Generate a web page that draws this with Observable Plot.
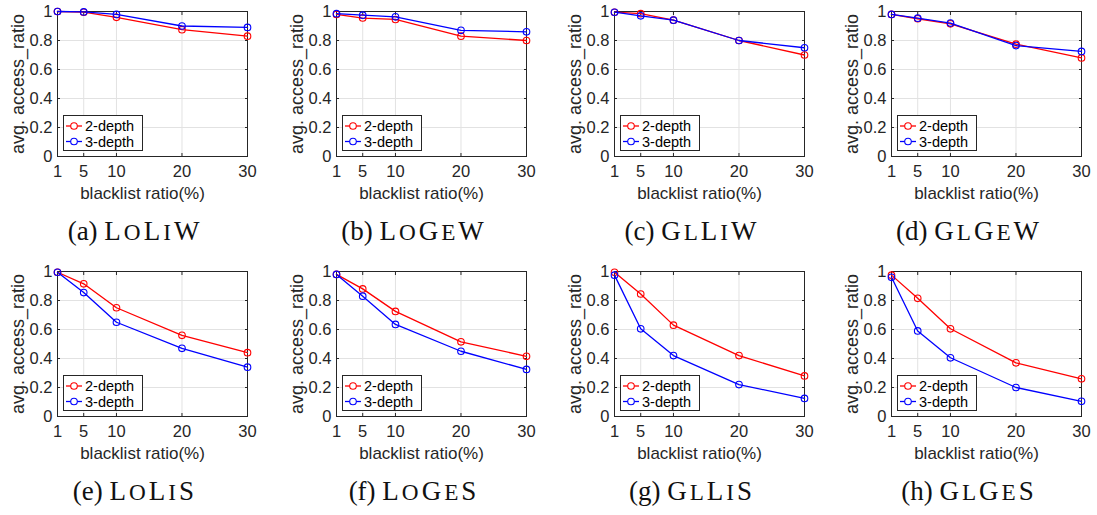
<!DOCTYPE html>
<html><head><meta charset="utf-8">
<script src="https://cdn.jsdelivr.net/npm/d3@7"></script>
<script src="https://cdn.jsdelivr.net/npm/@observablehq/plot@0.6"></script>
<style>
body{margin:0;background:#fff;}
#root{position:relative;width:1097px;height:515px;overflow:hidden;background:#fff;}
.panel{position:absolute;}
.legend{position:absolute;background:#fff;}
.caption{position:absolute;font-family:"Liberation Serif","Times New Roman",serif;font-size:27px;color:#111;white-space:nowrap;transform:translate(-50%,-50%);line-height:1;}
.caption .nm{letter-spacing:3px;}
.caption .sc{font-size:86%;}
</style></head><body><div id="root"></div>
<script>
// x values: blacklist ratio (%)
const blacklistRatio = [1, 5, 10, 20, 30];
const yTicks = [0, 0.2, 0.4, 0.6, 0.8, 1];
const panelLetters = ["a", "b", "c", "d", "e", "f", "g", "h"];
const panelNames = ["LoLiW", "LoGeW", "GlLiW", "GlGeW", "LoLiS", "LoGeS", "GlLiS", "GlGeS"];
const seriesNames = ["2-depth", "3-depth"];
const seriesColors = ["#ff0000", "#0000ff"];
// avg. access_ratio per panel, 2-depth
const depth2Values = [
  [1.00, 0.995, 0.96, 0.875, 0.83],
  [0.98, 0.955, 0.945, 0.83, 0.80],
  [0.995, 0.985, 0.94, 0.80, 0.70],
  [0.98, 0.95, 0.915, 0.775, 0.68],
  [0.995, 0.915, 0.75, 0.56, 0.44],
  [0.98, 0.88, 0.725, 0.515, 0.415],
  [0.995, 0.845, 0.63, 0.42, 0.28],
  [0.975, 0.815, 0.605, 0.37, 0.26]
];
// avg. access_ratio per panel, 3-depth
const depth3Values = [
  [1.00, 0.997, 0.98, 0.90, 0.89],
  [0.985, 0.975, 0.963, 0.87, 0.86],
  [0.995, 0.97, 0.94, 0.80, 0.75],
  [0.98, 0.954, 0.92, 0.765, 0.725],
  [0.995, 0.855, 0.65, 0.47, 0.34],
  [0.98, 0.83, 0.635, 0.45, 0.325],
  [0.975, 0.605, 0.42, 0.22, 0.125],
  [0.96, 0.59, 0.405, 0.20, 0.105]
];
const xLabel = "blacklist ratio(%)";
const yLabel = "avg. access_ratio";

const frameLefts = [57, 336, 614, 891];
const frameTops = [11, 271];
const FW = 190, FH = 145, ML = 57, MT = 11, MB = 50, MR = 16;
const root = document.getElementById("root");
const txt = "#262626";

panelNames.forEach((name, i) => {
  const col = i % 4, row = Math.floor(i / 4);
  const fl = frameLefts[col], ft = frameTops[row];
  const series = [depth2Values[i], depth3Values[i]].map((vals, s) =>
    vals.map((v, k) => ({x: blacklistRatio[k], y: v, s})));
  const marks = [
    Plot.gridX(blacklistRatio, {stroke: "#e2e2e2", strokeOpacity: 1}),
    Plot.gridY(yTicks, {stroke: "#e2e2e2", strokeOpacity: 1}),
    Plot.axisX({ticks: blacklistRatio, tickSize: 0, tickPadding: 9, label: null, tickFormat: d => String(d), fill: txt, fontSize: 16.5}),
    Plot.axisY({ticks: yTicks, tickSize: 0, tickPadding: 5, label: null, tickFormat: d => String(d), fill: txt, fontSize: 16.5}),
    Plot.axisX({ticks: blacklistRatio, tickSize: -3, fill: "none", stroke: txt, label: null}),
    Plot.axisX({ticks: blacklistRatio, anchor: "top", tickSize: -3, fill: "none", stroke: txt, label: null}),
    Plot.axisY({ticks: yTicks, tickSize: -3, fill: "none", stroke: txt, label: null}),
    Plot.axisY({ticks: yTicks, anchor: "right", tickSize: -3, fill: "none", stroke: txt, label: null}),
    Plot.frame({stroke: txt, strokeWidth: 1})
  ];
  series.forEach((data, s) => {
    marks.push(Plot.line(data, {x: "x", y: "y", stroke: seriesColors[s], strokeWidth: 1.3}));
    marks.push(Plot.dot(data, {x: "x", y: "y", r: 3.3, stroke: seriesColors[s], strokeWidth: 1.1, fill: "none"}));
  });
  marks.push(Plot.text([xLabel], {text: d => d, frameAnchor: "bottom", dy: 37, dx: -10, lineAnchor: "middle", textAnchor: "middle", fontSize: 17, fill: txt}));
  marks.push(Plot.text([yLabel], {text: d => d, frameAnchor: "left", dx: -39, rotate: -90, lineAnchor: "middle", textAnchor: "middle", fontSize: 18, fill: txt}));
  const width = ML + FW + MR;
  const chart = Plot.plot({
    width, height: MT + FH + MB,
    marginLeft: ML, marginTop: MT, marginBottom: MB, marginRight: MR,
    style: {fontFamily: "'Liberation Sans', Arial, sans-serif", fontSize: "16px", color: txt, background: "transparent", overflow: "visible"},
    x: {domain: [1, 30]},
    y: {domain: [0, 1]},
    marks
  });
  const wrap = document.createElement("div");
  wrap.className = "panel";
  wrap.style.left = (fl - ML) + "px";
  wrap.style.top = (ft - MT) + "px";
  wrap.appendChild(chart);
  root.appendChild(wrap);

  // legend box (lower-left inside the axes)
  const lw = 80, lh = 36;
  const leg = document.createElement("div");
  leg.className = "legend";
  leg.style.left = (fl + 6) + "px";
  leg.style.top = (ft + FH - 5 - lh) + "px";
  const ns = "http://www.w3.org/2000/svg";
  const svg = document.createElementNS(ns, "svg");
  svg.setAttribute("width", lw); svg.setAttribute("height", lh);
  svg.style.display = "block";
  const rect = document.createElementNS(ns, "rect");
  rect.setAttribute("x", 0.5); rect.setAttribute("y", 0.5);
  rect.setAttribute("width", lw - 1); rect.setAttribute("height", lh - 1);
  rect.setAttribute("fill", "#fff"); rect.setAttribute("stroke", txt);
  svg.appendChild(rect);
  seriesNames.forEach((sn, s) => {
    const cy = s === 0 ? 11 : 26.5;
    const ln = document.createElementNS(ns, "line");
    ln.setAttribute("x1", 3); ln.setAttribute("x2", 19);
    ln.setAttribute("y1", cy); ln.setAttribute("y2", cy);
    ln.setAttribute("stroke", seriesColors[s]); ln.setAttribute("stroke-width", 1.3);
    svg.appendChild(ln);
    const c = document.createElementNS(ns, "circle");
    c.setAttribute("cx", 11); c.setAttribute("cy", cy); c.setAttribute("r", 3.3);
    c.setAttribute("fill", "#fff"); c.setAttribute("stroke", seriesColors[s]); c.setAttribute("stroke-width", 1.1);
    svg.appendChild(c);
    const t = document.createElementNS(ns, "text");
    t.setAttribute("x", 22); t.setAttribute("y", cy);
    t.setAttribute("dominant-baseline", "central");
    t.setAttribute("font-family", "'Liberation Sans', Arial, sans-serif");
    t.setAttribute("font-size", 14.5);
    t.setAttribute("fill", "#000");
    t.textContent = sn;
    svg.appendChild(t);
  });
  leg.appendChild(svg);
  root.appendChild(leg);

  // caption
  const cap = document.createElement("div");
  cap.className = "caption";
  cap.style.left = (fl + FW / 2 - 17) + "px";
  cap.style.top = (ft + 220) + "px";
  let html = "(" + panelLetters[i] + ") <span class=\"nm\">";
  for (const ch of name) {
    html += ch === ch.toUpperCase() ? ch : '<span class="sc">' + ch.toUpperCase() + "</span>";
  }
  html += "</span>";
  cap.innerHTML = html;
  root.appendChild(cap);
});
</script>
</body></html>
